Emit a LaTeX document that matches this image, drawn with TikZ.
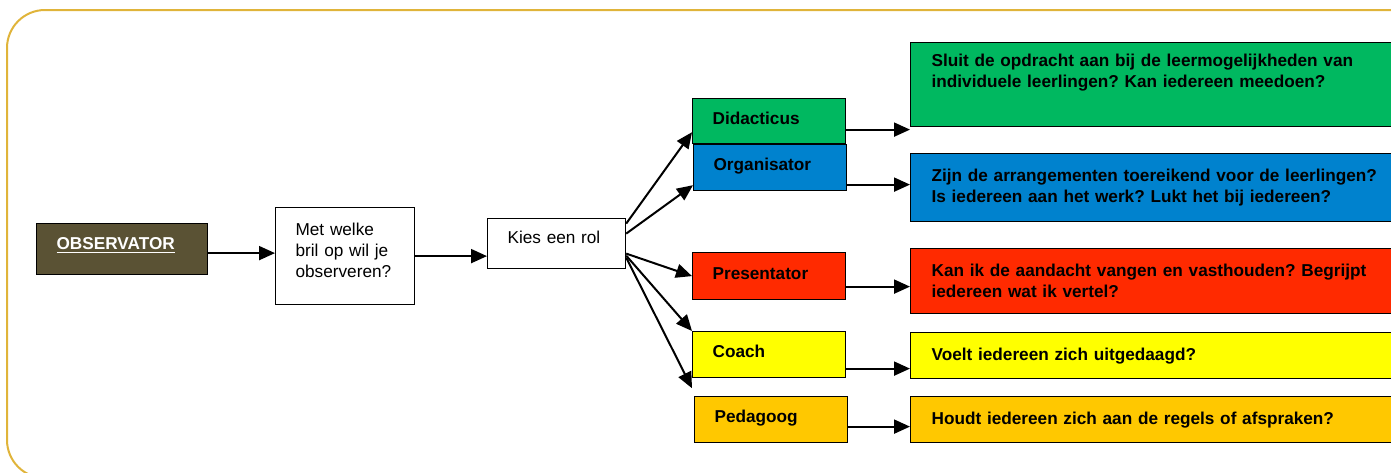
\documentclass[tikz,border=0pt]{standalone}
\usepackage{fontspec}
\setmainfont{Liberation Sans}
\usetikzlibrary{arrows.meta}
\definecolor{rand}{HTML}{E0B43A}
\definecolor{olijf}{HTML}{5A5234}
\definecolor{groen}{HTML}{00B860}
\definecolor{blauw}{HTML}{0082CE}
\definecolor{rood}{HTML}{FF2A00}
\definecolor{geel}{HTML}{FFFF00}
\definecolor{oranje}{HTML}{FFC800}
\frenchspacing

\begin{document}
\begin{tikzpicture}[x=0.5pt,y=-0.5pt,
	box/.style={draw, line width=0.6pt, anchor=north west, align=left, inner xsep=10pt, inner ysep=0pt,
		font=\fontsize{8.6pt}{10.5pt}\selectfont},
	rol/.style={box, font=\fontsize{8.6pt}{10.5pt}\selectfont\bfseries, text width=56.5pt, minimum height=23pt,
		text depth=3pt},
	vraag/.style={box, font=\fontsize{8.6pt}{10.5pt}\selectfont\bfseries, inner xsep=10.5pt, text width=229pt},
	pijl/.style={-{Triangle[length=8pt,width=7pt]}, line width=1pt}]
			\useasboundingbox (0,0) rectangle (1391,472);
			\clip (0,0) rectangle (1391,472);
			\draw[rand, line width=1pt, rounded corners=19pt] (7,10) rectangle (1440,478);

			\node(obs)	[box, fill=olijf, text=white, text width=65.5pt, minimum height=25.5pt, text depth=6pt,
				font=\fontsize{8.6pt}{10.5pt}\selectfont\bfseries] at (36,223) {\underline{OBSERVATOR}};
			\node(bril)	[box, fill=white, text width=49.5pt, minimum height=48.5pt, text depth=27pt] at (275,207)
				{Met welke\\bril op wil je\\observeren?};
			\node(kies)	[box, fill=white, text width=49pt, minimum height=25pt, text depth=6pt] at (487,218) {Kies een rol};

			\node(did)	[rol, fill=groen, minimum height=22.5pt] at (692,98) {Didacticus};
			\node(org)	[rol, fill=blauw] at (693,144) {Organisator};
			\node(pre)	[rol, fill=rood, minimum height=23.5pt] at (692,252) {Presentator};
			\node(coa)	[rol, fill=geel] at (692,331) {Coach};
			\node(ped)	[rol, fill=oranje] at (694,396) {Pedagoog};

			\node(q1)	[vraag, fill=groen, minimum height=42pt] at (910,42)
				{Sluit de opdracht aan bij de leermogelijkheden van\\individuele leerlingen? Kan iedereen meedoen?\\\strut};
			\node(q2)	[vraag, fill=blauw, minimum height=34pt] at (910,153)
				{Zijn de arrangementen toereikend voor de leerlingen?\\Is iedereen aan het werk? Lukt het bij iedereen?};
			\node(q3)	[vraag, fill=rood, minimum height=32.5pt] at (910,248)
				{Kan ik de aandacht vangen en vasthouden? Begrijpt\\iedereen wat ik vertel?};
			\node(q4)	[vraag, fill=geel, minimum height=23pt] at (910,332) {Voelt iedereen zich uitgedaagd?};
			\node(q5)	[vraag, fill=oranje, minimum height=23pt] at (910,396) {Houdt iedereen zich aan de regels of afspraken?};

			\draw[pijl]([yshift=-2pt]obs.east) -- ([yshift=-2pt]obs.east -| bril.west);
			\draw[pijl](bril.east) -- (bril.east -| kies.west);

			\draw[pijl]([yshift=10pt]kies.east) -- ([yshift=6pt]did.south west);
			\draw[pijl]([yshift=5pt]kies.east) -- ([yshift=3pt]org.south west);
			\draw[pijl]([yshift=-5pt]kies.east) -- (pre.west);
			\draw[pijl]([yshift=-6pt]kies.east) -- (coa.north west);
			\draw[pijl]([yshift=-7pt]kies.east) -- ([yshift=-5pt]coa.south west);

			\draw[pijl]([yshift=-4.25pt]did.east) -- ([yshift=-4.25pt]did.east -| q1.west);
			\draw[pijl]([yshift=-8.5pt]org.east) -- ([yshift=-8.5pt]org.east -| q2.west);
			\draw[pijl]([yshift=-5.25pt]pre.east) -- ([yshift=-5.25pt]pre.east -| q3.west);
			\draw[pijl]([yshift=-7pt]coa.east) -- ([yshift=-7pt]coa.east -| q4.west);
			\draw[pijl]([yshift=-3.5pt]ped.east) -- ([yshift=-3.5pt]ped.east -| q5.west);
		\end{tikzpicture}
\end{document}
